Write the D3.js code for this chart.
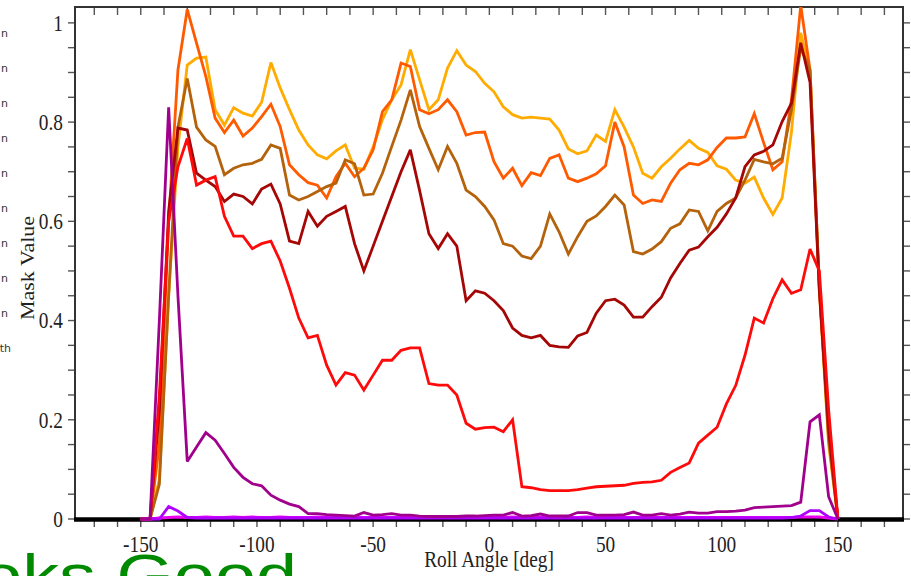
<!DOCTYPE html>
<html><head><meta charset="utf-8">
<script src="https://cdn.jsdelivr.net/npm/d3@7"></script>
<style>html,body{margin:0;padding:0;background:#fff;overflow:hidden}</style>
</head><body>
<svg id="c" width="911" height="576"></svg>
<script>
// ---- data ----
const angles = [-150,-146,-142,-138,-134,-130,-126,-122,-118,-114,-110,-106,-102,-98,-94,-90,-86,-82,-78,-74,-70,-66,-62,-58,-54,-50,-46,-42,-38,-34,-30,-26,-22,-18,-14,-10,-6,-2,2,6,10,14,18,22,26,30,34,38,42,46,50,54,58,62,66,70,74,78,82,86,90,94,98,102,106,110,114,118,122,126,130,134,138,142,146,150];

const gold = [0,0,0.08,0.45,0.75,0.915,0.929,0.931,0.825,0.794,0.829,0.818,0.812,0.84,0.92,0.869,0.825,0.784,0.754,0.734,0.726,0.742,0.754,0.707,0.705,0.75,0.805,0.845,0.875,0.946,0.885,0.825,0.845,0.909,0.944,0.915,0.902,0.878,0.861,0.831,0.815,0.808,0.810,0.808,0.806,0.784,0.746,0.736,0.742,0.774,0.761,0.825,0.790,0.750,0.697,0.687,0.710,0.727,0.746,0.763,0.747,0.739,0.712,0.705,0.683,0.677,0.689,0.647,0.614,0.647,0.78,0.98,0.9,0.46,0.15,0];

const orange = [0,0,0.15,0.6,0.905,1.027,0.959,0.892,0.808,0.779,0.804,0.772,0.788,0.811,0.836,0.791,0.714,0.694,0.678,0.673,0.647,0.69,0.717,0.69,0.707,0.744,0.821,0.845,0.919,0.912,0.825,0.817,0.825,0.845,0.821,0.774,0.779,0.780,0.720,0.687,0.707,0.672,0.698,0.692,0.727,0.734,0.687,0.680,0.687,0.696,0.712,0.80,0.75,0.653,0.636,0.643,0.640,0.677,0.704,0.717,0.714,0.724,0.749,0.768,0.768,0.770,0.817,0.759,0.704,0.720,0.845,1.035,0.905,0.47,0.17,0];

const brown = [0,0,0.07,0.45,0.79,0.888,0.79,0.764,0.751,0.694,0.707,0.714,0.717,0.725,0.754,0.747,0.653,0.643,0.65,0.66,0.67,0.677,0.724,0.716,0.653,0.655,0.697,0.751,0.804,0.865,0.791,0.747,0.704,0.751,0.717,0.663,0.65,0.63,0.603,0.555,0.55,0.53,0.525,0.55,0.615,0.579,0.534,0.569,0.60,0.611,0.63,0.653,0.633,0.539,0.534,0.544,0.559,0.586,0.595,0.623,0.62,0.581,0.62,0.636,0.647,0.683,0.725,0.72,0.716,0.727,0.825,0.95,0.905,0.47,0.16,0];

const darkRed = [0,0,0.22,0.62,0.788,0.784,0.697,0.683,0.67,0.64,0.655,0.65,0.635,0.665,0.675,0.635,0.56,0.555,0.62,0.59,0.61,0.62,0.63,0.555,0.50,0.55,0.60,0.65,0.70,0.744,0.662,0.575,0.545,0.575,0.55,0.44,0.46,0.455,0.44,0.42,0.385,0.37,0.365,0.37,0.35,0.347,0.346,0.369,0.376,0.415,0.44,0.443,0.431,0.407,0.407,0.428,0.447,0.486,0.515,0.542,0.548,0.569,0.588,0.615,0.647,0.71,0.734,0.741,0.754,0.801,0.838,0.96,0.88,0.46,0.18,0];

const red = [0,0,0.25,0.6,0.71,0.767,0.673,0.683,0.69,0.61,0.57,0.57,0.545,0.555,0.56,0.52,0.465,0.405,0.365,0.37,0.31,0.27,0.295,0.29,0.26,0.29,0.32,0.32,0.34,0.345,0.345,0.273,0.27,0.27,0.25,0.193,0.181,0.184,0.185,0.176,0.200,0.065,0.063,0.059,0.057,0.057,0.057,0.059,0.062,0.065,0.066,0.067,0.068,0.072,0.074,0.075,0.078,0.094,0.104,0.113,0.153,0.169,0.185,0.232,0.269,0.33,0.405,0.395,0.444,0.482,0.455,0.462,0.544,0.50,0.22,0];

const magenta = [0,0,0.002,0.003,0.004,0.003,0.003,0.004,0.003,0.003,0.004,0.003,0.004,0.003,0.003,0.004,0.003,0.003,0.003,0.004,0.003,0.003,0.003,0.004,0.003,0.003,0.003,0.003,0.003,0.003,0.003,0.003,0.003,0.003,0.003,0.003,0.003,0.003,0.003,0.003,0.004,0.003,0.003,0.003,0.003,0.003,0.003,0.003,0.004,0.003,0.003,0.003,0.003,0.003,0.003,0.003,0.003,0.003,0.003,0.003,0.003,0.003,0.003,0.003,0.003,0.003,0.003,0.003,0.003,0.003,0.003,0.004,0.004,0.004,0.002,0];

const violet = [0,0,0,0.025,0.016,0.003,0.002,0.002,0.002,0.002,0.002,0.002,0.002,0.002,0.002,0.002,0.002,0.002,0.002,0.002,0.002,0.002,0.002,0.002,0.002,0.002,0.002,0.002,0.002,0.002,0.002,0.002,0.002,0.002,0.002,0.002,0.002,0.002,0.002,0.002,0.002,0.002,0.002,0.002,0.002,0.002,0.002,0.002,0.002,0.002,0.002,0.002,0.002,0.002,0.002,0.002,0.002,0.002,0.002,0.002,0.002,0.002,0.002,0.002,0.002,0.002,0.002,0.002,0.002,0.002,0.003,0.006,0.017,0.017,0.004,0];

const purple = [0,0,0.40,0.83,0.45,0.116,0.145,0.174,0.159,0.132,0.104,0.084,0.071,0.067,0.048,0.038,0.030,0.025,0.011,0.011,0.009,0.008,0.007,0.006,0.013,0.008,0.009,0.011,0.008,0.008,0.006,0.005,0.005,0.005,0.005,0.006,0.006,0.007,0.008,0.008,0.013,0.006,0.007,0.010,0.006,0.006,0.006,0.013,0.013,0.008,0.008,0.008,0.009,0.014,0.008,0.008,0.011,0.008,0.010,0.014,0.012,0.012,0.015,0.015,0.016,0.018,0.023,0.024,0.025,0.026,0.027,0.034,0.196,0.21,0.045,0];

const xTickValues = [-150,-100,-50,0,50,100,150];
const yTickValues = [0,0.2,0.4,0.6,0.8,1];
const yTickLabels = ["0","0.2","0.4","0.6","0.8","1"];
const xTitle = "Roll Angle [deg]";
const yTitle = "Mask Value";
const legendTails = ["n","n","n","n","n","n","n","n","n","th"];
const stampText = "Looks Good";

// ---- styling / layout ----
const series = [
  {v: gold,    c: "#ffab00"},
  {v: orange,  c: "#ff5a00"},
  {v: brown,   c: "#b4620c"},
  {v: darkRed, c: "#a50606"},
  {v: red,     c: "#ff0a0a"},
  {v: magenta, c: "#ee00ee"},
  {v: violet,  c: "#b000ff"},
  {v: purple,  c: "#a0008c"}
];

const L = 75, R = 903, T = 7, B = 519;
const svg = d3.select("#c");
const x = d3.scaleLinear().domain([-178.3, 178.0]).range([L, R]);
const y = d3.scaleLinear().domain([0, 1.032]).range([B, T]);
const serif = "'Liberation Serif','Times New Roman',serif";
const sx = 0.84;

svg.append("defs").append("clipPath").attr("id","pc")
  .append("rect").attr("x", L).attr("y", T).attr("width", R-L).attr("height", B-T+2);

// legend fragments (cut off at left edge)
svg.append("g").selectAll("text").data(legendTails).join("text")
  .attr("x", (d)=> d === "th" ? 11 : 8)
  .attr("y", (d,i)=> 37 + i*35)
  .attr("text-anchor","end")
  .attr("font-family","'DejaVu Sans',sans-serif")
  .attr("font-size", 11)
  .attr("fill","#333")
  .text(d=>d);

// ticks
const tickCol = "#555";
const xMinor = d3.range(-170, 171, 10);
const yMinor = d3.range(0, 1.0001, 0.05);
const gt = svg.append("g").attr("stroke", tickCol).attr("stroke-width", 1.4);
gt.selectAll(".bt").data(xMinor).join("line")
  .attr("x1", d=>x(d)).attr("x2", d=>x(d)).attr("y1", B).attr("y2", B+8);
gt.selectAll(".tt").data(xMinor).join("line")
  .attr("x1", d=>x(d)).attr("x2", d=>x(d)).attr("y1", T).attr("y2", T+8);
gt.selectAll(".lt").data(yMinor).join("line")
  .attr("x1", L-7).attr("x2", L).attr("y1", d=>y(d)).attr("y2", d=>y(d));
gt.selectAll(".rt").data(yMinor).join("line")
  .attr("x1", R).attr("x2", R+7).attr("y1", d=>y(d)).attr("y2", d=>y(d));

// frame
svg.append("rect").attr("x", L).attr("y", T).attr("width", R-L).attr("height", B-T)
  .attr("fill","none").attr("stroke","#333").attr("stroke-width", 2);

// thick black zero line
svg.append("line").attr("x1", L-1).attr("x2", R+1).attr("y1", y(0)+0.5).attr("y2", y(0)+0.5)
  .attr("stroke","#000").attr("stroke-width", 4.5);

// series
const line = d3.line().x((d,i)=>x(angles[i])).y(d=>y(d));
const gl = svg.append("g").attr("clip-path","url(#pc)");
gl.selectAll("path").data(series).join("path")
  .attr("d", d=>line(d.v))
  .attr("fill","none")
  .attr("stroke", d=>d.c)
  .attr("stroke-width", 2.8)
  .attr("stroke-linejoin","miter")
  .attr("stroke-miterlimit", 3);

// tick labels
svg.append("g").selectAll("text").data(xTickValues).join("text")
  .attr("transform", d=>`translate(${x(d)},552) scale(${sx},1)`)
  .attr("text-anchor","middle")
  .attr("font-family", serif).attr("font-size", 23).attr("fill","#222")
  .text(d=> d < 0 ? "-" + Math.abs(d) : String(d));

svg.append("g").selectAll("text").data(yTickValues).join("text")
  .attr("transform", d=>`translate(63,${y(d)+7.8}) scale(${sx},1)`)
  .attr("text-anchor","end")
  .attr("font-family", serif).attr("font-size", 23).attr("fill","#222")
  .text((d,i)=>yTickLabels[i]);

// axis titles
svg.append("text")
  .attr("transform", `translate(489,567) scale(${sx},1)`)
  .attr("text-anchor","middle")
  .attr("font-family", serif).attr("font-size", 23).attr("fill","#222")
  .text(xTitle);

svg.append("text")
  .attr("transform", `translate(34,268) rotate(-90) scale(1,${sx})`)
  .attr("text-anchor","middle")
  .attr("font-family", serif).attr("font-size", 22).attr("fill","#222")
  .text(yTitle);

// overlaid stamp text (cut at the image edges)
svg.append("text")
  .attr("transform", "translate(297,596) scale(1.23,1)")
  .attr("text-anchor","end")
  .attr("font-family","'Liberation Sans',Arial,sans-serif")
  .attr("font-size", 60)
  .attr("fill","#008a00")
  .text(stampText);
</script>
</body></html>
